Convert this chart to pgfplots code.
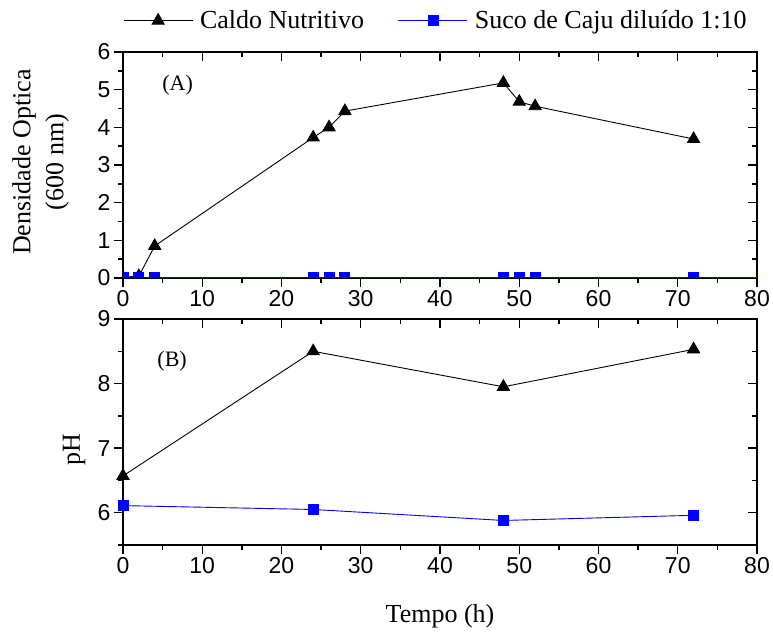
\documentclass[border=0pt]{standalone}
\usepackage{pgfplots}
\pgfplotsset{compat=1.18}
\usepackage{fontspec}
\setmainfont{Liberation Serif}
\newfontfamily\arialfont{Liberation Sans}

% Optical density (600 nm) versus time
\pgfplotstableread{
t   caldo  suco
0   0.02   0.02
2   0.05   0.02
4   0.85   0.02
24  3.73   0.02
26  4.00   0.02
28  4.43   0.02
48  5.18   0.02
50  4.68   0.02
52  4.56   0.02
72  3.69   0.02
}\densidade

% pH versus time
\pgfplotstableread{
t   caldo  suco
0   6.57   6.11
24  8.50   6.05
48  7.95   5.88
72  8.53   5.96
}\phdata

\pgfplotsset{
  painel/.style={
    scale only axis, width=634pt, height=226pt,
    anchor=south west,
    xmin=0, xmax=80,
    xtick={0,10,...,80},
    minor xtick={5,15,...,75},
    major tick length=9pt, minor tick length=5pt,
    tick style={line width=1.4pt, black},
    axis line style={line width=1.6pt},
    ticklabel style={font=\arialfont\fontsize{23}{27}\selectfont},
    /pgf/number format/assume math mode=true,
    label style={font=\fontsize{26}{33}\selectfont},
  },
  espelho/.style={
    painel, tick pos=right, tick align=inside,
    xticklabels={}, yticklabels={},
  },
  caldo/.style={black, line width=0.9pt, mark=triangle*, mark size=7pt,
    mark options={solid, fill=black}},
  suco/.style={blue, line width=0.9pt, mark=square*, mark size=5pt,
    mark options={solid, fill=blue}},
}

\begin{document}
\begin{tikzpicture}
\path[use as bounding box] (0,0) rectangle (773pt,632pt);

% (A) optical density
\begin{axis}[espelho, at={(123pt,354pt)}, ymin=0, ymax=6,
  ytick={0,...,6}, minor ytick={0.5,1.5,...,5.5}]
  \addplot[draw=none] coordinates {(0,0)};
\end{axis}
\begin{axis}[painel, at={(123pt,354pt)}, ymin=0, ymax=6,
  ytick={0,...,6}, minor ytick={0.5,1.5,...,5.5},
  tick pos=left, tick align=outside,
  clip marker paths=true,
  ylabel={Densidade Optica\\(600 nm)},
  ylabel style={align=center, at={(axis description cs:-0.130,0.513)}, anchor=center},
  legend columns=2,
  legend style={draw=none, fill=none, inner sep=0pt,
    at={(axis description cs:0,1.1385)}, anchor=west,
    font=\fontsize{26}{30}\selectfont,
    nodes={inner sep=0pt},
    /tikz/every odd column/.append style={column sep=7pt},
    /tikz/every even column/.append style={column sep=34pt}},
  legend cell align=left,
  legend image code/.code={
    \draw[mark repeat=2, mark phase=2, #1] plot coordinates {(0pt,0pt) (34.5pt,0pt) (69pt,0pt)};},
  ]
  \addplot[suco, mark=none, line width=1.2pt, forget plot] coordinates {(0,0) (80,0)};
  \addplot[caldo] table[x=t, y=caldo] {\densidade};
  \addplot[suco] table[x=t, y=suco] {\densidade};
  \legend{Caldo Nutritivo, Suco de Caju diluído 1:10}
  \node[font=\fontsize{22}{26}\selectfont] at (axis cs:6.9,5.12) {(A)};
\end{axis}

% (B) pH
\begin{axis}[espelho, at={(123pt,87pt)}, ymin=5.5, ymax=9,
  ytick={6,7,8,9}, minor ytick={5.5,6.5,7.5,8.5}]
  \addplot[draw=none] coordinates {(0,6)};
\end{axis}
\begin{axis}[painel, at={(123pt,87pt)}, ymin=5.5, ymax=9,
  ytick={6,7,8,9}, minor ytick={5.5,6.5,7.5,8.5},
  tick pos=left, tick align=outside,
  ylabel={pH},
  ylabel style={at={(axis description cs:-0.077,0.42)}, anchor=center},
  xlabel={Tempo (h)},
  xlabel style={at={(axis description cs:0.5,-0.341)}, anchor=base},
  ]
  \addplot[caldo] table[x=t, y=caldo] {\phdata};
  \addplot[suco] table[x=t, y=suco] {\phdata};
  \node[font=\fontsize{22}{26}\selectfont] at (axis cs:6.2,8.35) {(B)};
\end{axis}
\end{tikzpicture}
\end{document}
